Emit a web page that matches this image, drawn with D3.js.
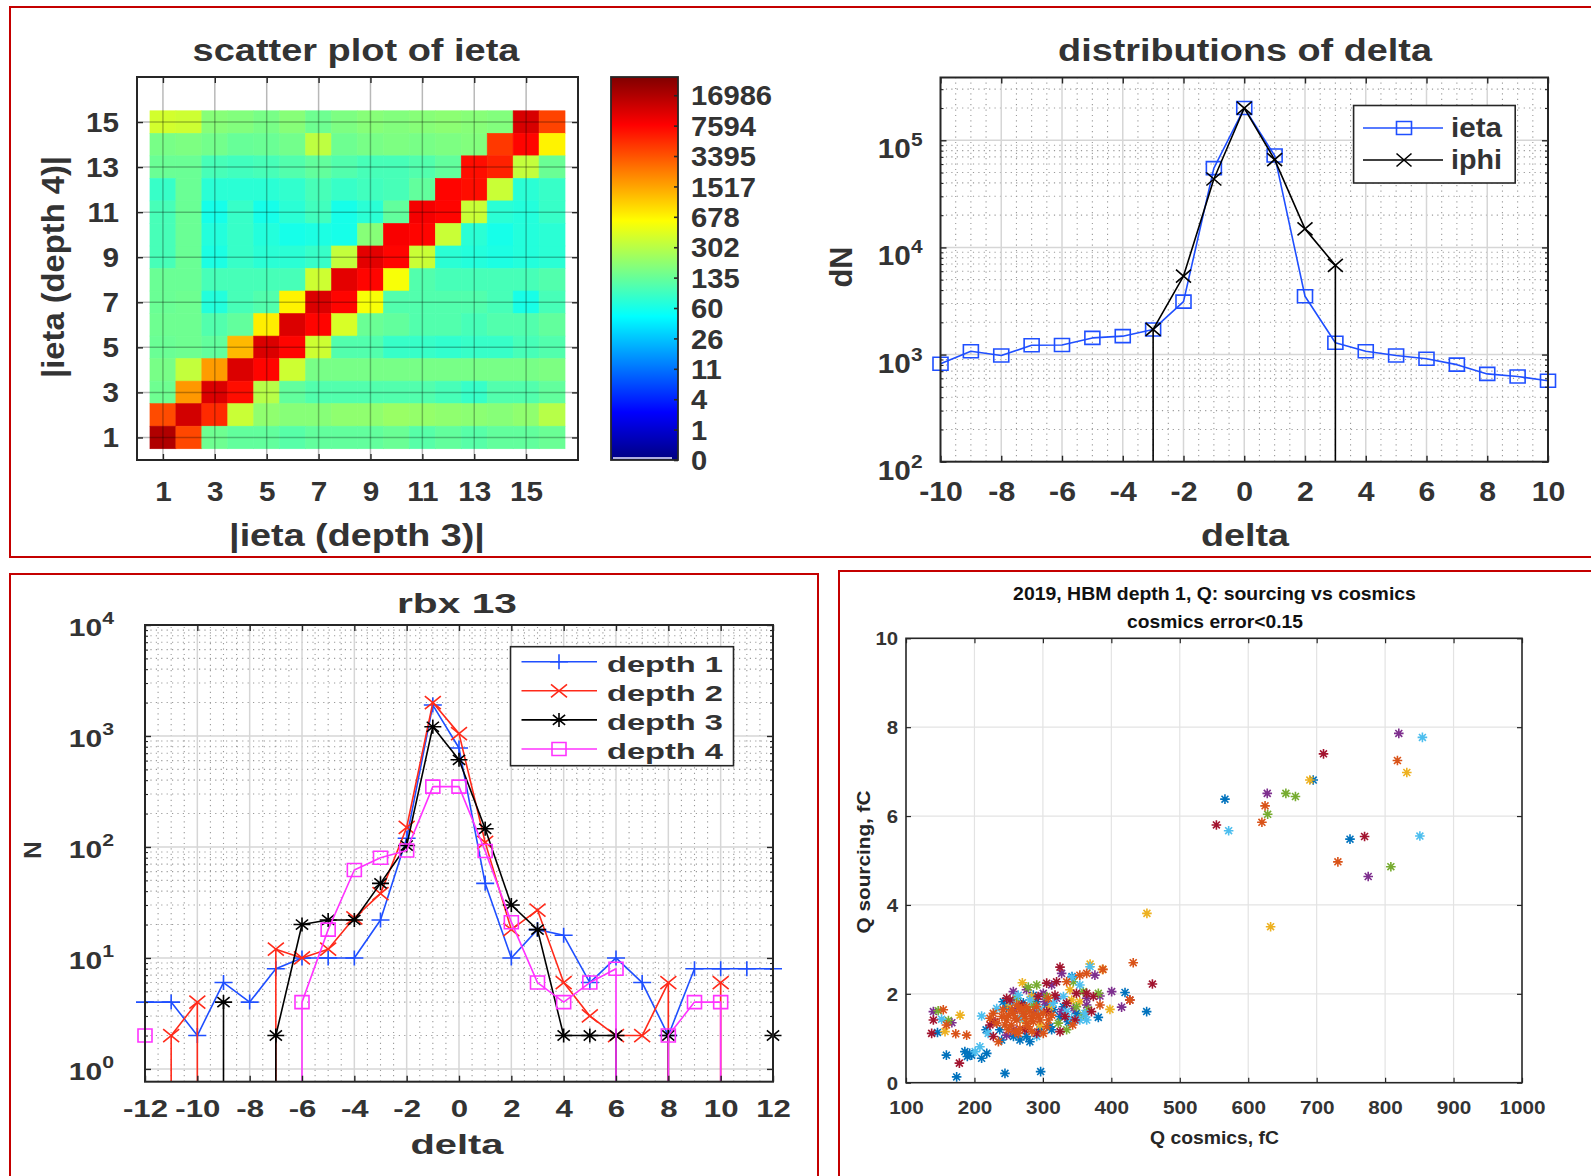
<!DOCTYPE html>
<html>
<head>
<meta charset="utf-8">
<script src="https://cdn.jsdelivr.net/npm/d3@7"></script>
<style>
  html, body { margin: 0; padding: 0; background: #fff; }
  svg { display: block; }
</style>
</head>
<body>
<svg id="fig" width="1591" height="1176"></svg>
<script>
// ---------------- data ----------------

// |ieta| of depth 3 (columns) versus |ieta| of depth 4 (rows, top row = 15)
const ietaDepth3 = d3.range(1, 17);
const ietaDepth4 = d3.range(15, 0, -1);
const ietaTicks = [1, 3, 5, 7, 9, 11, 13, 15];
const ietaCounts = [
  [420, 400, 200, 190, 170, 200, 150, 180, 200, 190, 200, 210, 200, 190, 12500, 4200],
  [170, 180, 160, 135, 140, 160, 330, 150, 170, 180, 170, 180, 190, 4800, 7500, 700],
  [140, 140, 105, 100, 105, 115, 130, 115, 105, 105, 115, 130, 7000, 6000, 350, 140],
  [90, 140, 78, 78, 78, 85, 105, 90, 100, 105, 130, 7500, 7000, 380, 78, 90],
  [105, 140, 60, 90, 60, 78, 100, 60, 78, 130, 9000, 7500, 380, 78, 72, 90],
  [105, 140, 72, 90, 72, 60, 65, 60, 200, 8500, 7500, 380, 78, 60, 72, 78],
  [105, 140, 65, 90, 78, 78, 90, 350, 11000, 7500, 380, 78, 72, 65, 72, 78],
  [140, 140, 105, 105, 105, 105, 400, 11000, 7500, 600, 115, 105, 105, 105, 105, 115],
  [140, 150, 72, 105, 115, 700, 12000, 7500, 600, 115, 115, 115, 115, 105, 62, 105],
  [150, 150, 115, 130, 750, 12000, 7500, 450, 140, 130, 115, 115, 105, 115, 115, 130],
  [140, 150, 130, 1300, 12000, 7500, 400, 115, 115, 90, 90, 85, 90, 90, 105, 115],
  [170, 350, 1700, 12000, 7500, 400, 170, 170, 170, 170, 170, 170, 170, 170, 170, 180],
  [150, 1800, 12000, 7000, 300, 130, 115, 115, 115, 115, 115, 105, 90, 115, 115, 130],
  [3800, 13000, 5500, 380, 220, 200, 200, 220, 220, 240, 230, 220, 210, 200, 220, 300],
  [16986, 4000, 150, 130, 130, 120, 130, 130, 130, 140, 120, 130, 120, 130, 130, 140]
];
const cbarTicks = [0, 1, 4, 11, 26, 60, 135, 302, 678, 1517, 3395, 7594, 16986];

// delta distributions
const deltaX = d3.range(-10, 11);
const ietaDelta = [820, 1075, 980, 1220, 1230, 1430, 1485, 1715, 3120, 55000, 200000,
                   72000, 3500, 1290, 1075, 980, 915, 805, 660, 625, 570];
const iphiDelta = [0, 0, 0, 0, 0, 0, 0, 1715, 5400, 43500, 200000,
                   66000, 14900, 6800, 0, 0, 0, 0, 0, 0, 0];
const deltaTicks = d3.range(-10, 11, 2);

// rbx 13, counts per delta for each depth
const rbxDelta = d3.range(-12, 13);
const rbxTicks = d3.range(-12, 13, 2);
const depth1 = [4, 4, 2, 6, 4, 8, 10, 10, 10, 22, 120, 1900, 780, 47, 10, 18, 16, 6, 10, 6, 2, 8, 8, 8, 8];
const depth2 = [0, 2, 4, 0, 0, 12, 10, 12, 23, 38, 150, 2000, 1050, 110, 18, 27, 6, 3, 2, 2, 6, 0, 6, 0, 0];
const depth3 = [0, 0, 0, 4, 0, 2, 20, 22, 22, 47, 103, 1210, 610, 146, 30, 18, 2, 2, 2, 0, 2, 0, 0, 0, 2];
const depth4 = [2, 0, 0, 0, 0, 0, 4, 18, 62, 80, 93, 350, 350, 92, 21, 6, 4, 6, 8, 0, 2, 4, 4, 0, 0];

// Q sourcing vs Q cosmics, [Q cosmics fC, Q sourcing fC], one list per channel group
const qBlue = [[146,1.13],[159,0.62],[174,0.13],[186,0.70],[189.6,0.59],[196,0.62],[193,0.66],[210.5,0.55],[218,0.66],[244.6,0.21],[296.7,0.25],[217,1.19],[239.8,0.96],[266.5,0.96],[281,0.92],[312.8,1.19],[381,1.47],[420,2.03],[451.6,1.60],[286,1.97],[242,1.82],[247,1.70],[271.4,1.80],[291,1.82],[305.5,1.75],[315.2,1.64],[330,1.71],[325,1.49],[337,1.37],[349,1.56],[310.4,1.26],[295.8,1.19],[276,1.04],[257,1.04],[237,1.19],[342.5,2.39],[566,6.38],[748.7,5.48],[695,6.81]];
const qYellow = [[157,1.15],[179,1.52],[398,1.65],[387,2.55],[270,2.25],[339.6,2.09],[354,1.82],[252,1.75],[283.6,1.94],[310.4,1.71],[342,1.86],[271.4,1.41],[295.8,1.30],[369,2.67],[831.7,6.98],[690,6.81],[452,3.81],[632.7,3.51]];
const qPurple = [[140,1.60],[167,1.35],[247,1.07],[383.4,1.95],[400.5,2.05],[415,1.70],[376,2.42],[327.4,2.46],[312.8,2.20],[364,1.90],[320,1.90],[300.6,2.01],[276,2.09],[256.8,2.05],[259,1.64],[288.5,1.64],[303,1.82],[327.4,1.60],[344.5,1.67],[364,1.75],[257,1.19],[820,7.86],[627.8,6.51],[775.3,4.64]];
const qGreen = [[147,1.62],[162,1.40],[334.7,1.19],[359,1.52],[278.7,2.15],[291,2.20],[344.5,2.27],[359,2.05],[261.7,1.90],[276,1.64],[305.5,1.94],[322.5,1.34],[349,1.71],[366.4,1.64],[286,1.75],[381,2.01],[655,6.51],[669,6.44],[628.4,6.04],[808.4,4.86]];
const qCyan = [[152,1.43],[201,0.70],[208,0.81],[210.5,1.50],[220,1.11],[291,1.04],[354,1.41],[364,1.41],[368.8,2.61],[342,2.37],[354,2.20],[330,1.94],[264,1.97],[232.5,1.67],[254.4,1.82],[281,1.86],[315,1.79],[334.7,1.60],[342,1.45],[361.5,1.56],[266.5,1.45],[295.8,1.64],[854.5,7.77],[571.4,5.67],[850.8,5.55]];
const qRed = [[140,1.41],[137.5,1.11],[178,0.44],[227.6,1.04],[222.7,1.30],[230,1.37],[325,1.15],[371,1.60],[373.7,1.94],[427,1.86],[460,2.22],[325,2.60],[305.5,2.24],[320,2.27],[364,2.01],[349,2.01],[247,1.90],[252,1.86],[269,1.75],[293,1.94],[317.7,1.97],[334.7,1.79],[332.3,1.49],[347,1.41],[305.5,1.60],[273.8,1.19],[291,1.11],[710,7.40],[553.5,5.80],[770,5.54]];
const qOrange = [[154.5,1.64],[159,1.30],[172.7,1.10],[188.6,1.07],[235,0.92],[259,1.15],[300.6,1.11],[343.5,1.30],[383.4,1.75],[364,2.46],[354,2.42],[334.7,2.27],[308,1.90],[227.6,1.56],[222.7,1.45],[432,2.70],[427.3,1.86],[387.8,2.55],[242,1.64],[249.5,1.52],[257,1.56],[262,1.41],[266.5,1.64],[274,1.49],[281,1.60],[286,1.37],[293,1.52],[254,1.30],[266.5,1.22],[279,1.26],[247,1.41],[240,1.49],[262,1.75],[276,1.71],[291,1.71],[300.6,1.56],[308,1.41],[284,1.15],[264,1.11],[249.5,1.19],[271.4,1.56],[283.6,1.45],[254.4,1.64],[295.8,1.41],[276.3,1.34],[269,1.67],[286,1.52],[259.2,1.45],[244.6,1.30],[305.5,1.26],[312.8,1.52],[232.5,1.34],[818,7.25],[624.6,6.23],[620,5.86],[731,4.97]];
const qGroups = [qBlue, qYellow, qPurple, qGreen, qCyan, qRed, qOrange];
const qColors = ['#0072BD', '#EDB120', '#7E2F8E', '#77AC30', '#4DBEEE', '#A2142F', '#D95319'];
const qXTicks = d3.range(100, 1001, 100);
const qYTicks = d3.range(0, 11, 2);

// ---------------- helpers ----------------
const FONT = '"Liberation Sans", Arial, Helvetica, sans-serif';
const INK = '#333';
const plain = d => String(d);   // hyphen minus, no thousands separator
const svg = d3.select('#fig');

function jet(t) {
  t = Math.max(0, Math.min(1, t));
  const c = v => Math.round(255 * Math.max(0, Math.min(1, v)));
  return `rgb(${c(1.5 - Math.abs(4 * t - 3))},${c(1.5 - Math.abs(4 * t - 2))},${c(1.5 - Math.abs(4 * t - 1))})`;
}

// text placed at (x,y); optionally squeezed/stretched to a given width
function label(parent, x, y, str, o) {
  const g = parent.append('g')
    .attr('transform', `translate(${x},${y})${o.rotate ? ` rotate(${o.rotate})` : ''}`);
  const t = g.append('text')
    .attr('text-anchor', o.anchor || 'middle')
    .attr('font-family', FONT)
    .attr('font-size', o.size)
    .attr('font-weight', o.weight || 'bold')
    .attr('fill', o.fill || INK)
    .text(str);
  if (o.width) {
    const w = t.node().getComputedTextLength();
    t.attr('transform', `scale(${o.width / w},1)`);
  } else if (o.k) {
    t.attr('transform', `scale(${o.k},1)`);
  }
  return t;
}

function styleAxis(g, size, tw) {
  g.attr('font-family', FONT).attr('font-size', size).attr('font-weight', 'bold');
  g.select('.domain').remove();
  g.selectAll('.tick line').attr('stroke', '#262626').attr('stroke-width', tw || 1.4);
  g.selectAll('.tick text').attr('fill', INK);
  return g;
}

function bottomLabels(g, off, k) {
  g.selectAll('.tick text').attr('y', off).attr('dy', 0).attr('transform', `scale(${k},1)`);
}
function leftLabels(g, off, k, dy) {
  g.selectAll('.tick text').attr('x', -off / k).attr('dy', dy || '0.35em')
    .attr('text-anchor', 'end').attr('transform', `scale(${k},1)`);
}
function powerLabels(g, supSize, raise) {
  g.selectAll('.tick text').each(function (d) {
    const t = d3.select(this).text(null);
    t.append('tspan').text('10');
    t.append('tspan').attr('font-size', supSize).attr('dy', -raise).text(Math.round(Math.log10(d)));
  });
}

// marker shapes: half-width hx, half-height hy
function markerPath(type, hx, hy) {
  const c = 0.72;
  switch (type) {
    case 'plus': return `M${-hx},0H${hx}M0,${-hy}V${hy}`;
    case 'cross': return `M${-hx},${-hy}L${hx},${hy}M${-hx},${hy}L${hx},${-hy}`;
    case 'star': return `M${-hx},0H${hx}M0,${-hy}V${hy}M${-hx * c},${-hy * c}L${hx * c},${hy * c}M${-hx * c},${hy * c}L${hx * c},${-hy * c}`;
    case 'square': return `M${-hx},${-hy}H${hx}V${hy}H${-hx}Z`;
  }
}

// line through positive counts; a zero count on a log axis drops the line to the floor
function countRuns(xs, ys, xs_, ys_, floor) {
  const runs = [];
  let cur = null;
  for (let i = 0; i < xs.length; i++) {
    if (ys[i] > 0) {
      if (!cur) {
        cur = [];
        if (i > 0) cur.push([xs_(xs[i]), floor]);
      }
      cur.push([xs_(xs[i]), ys_(ys[i])]);
    } else if (cur) {
      cur.push([cur[cur.length - 1][0], floor]);
      runs.push(cur);
      cur = null;
    }
  }
  if (cur) runs.push(cur);
  return runs;
}

function drawCountSeries(g, xs, ys, xScale, yScale, o) {
  const floor = yScale.range()[0];
  const runs = countRuns(xs, ys, xScale, yScale, floor);
  g.selectAll(null).data(runs).join('path')
    .attr('d', d3.line())
    .attr('fill', 'none').attr('stroke', o.color).attr('stroke-width', o.lw || 1.6)
    .attr('stroke-linejoin', 'round')
    .attr('clip-path', o.clip);
  const pts = xs.map((x, i) => [x, ys[i]]).filter(p => p[1] > 0);
  g.selectAll(null).data(pts).join('path')
    .attr('transform', p => `translate(${xScale(p[0])},${yScale(p[1])})`)
    .attr('d', markerPath(o.marker, o.hx, o.hy))
    .attr('fill', 'none').attr('stroke', o.color).attr('stroke-width', o.mw || 1.6);
}

function logGrid(g, xScale, yScale, xMajor, xMinorStep, decades) {
  const [x0, x1] = xScale.range();
  const [y0, y1] = yScale.range();
  const xd = xScale.domain();
  const minorX = d3.range(xd[0], xd[1] + 1e-9, xMinorStep).filter(v => !xMajor.includes(v));
  const minorY = [];
  decades.forEach(p => { for (let m = 2; m <= 9; m++) { const v = m * Math.pow(10, p); if (v > yScale.domain()[0] && v < yScale.domain()[1]) minorY.push(v); } });
  const majorY = decades.map(p => Math.pow(10, p)).filter(v => v > yScale.domain()[0] && v < yScale.domain()[1]);
  const dot = { stroke: '#9a9a9a', w: 1.1, dash: '1.2,4.2' };
  g.selectAll(null).data(minorX).join('line')
    .attr('x1', xScale).attr('x2', xScale).attr('y1', y0).attr('y2', y1)
    .attr('stroke', dot.stroke).attr('stroke-width', dot.w).attr('stroke-dasharray', dot.dash);
  g.selectAll(null).data(minorY).join('line')
    .attr('y1', yScale).attr('y2', yScale).attr('x1', x0).attr('x2', x1)
    .attr('stroke', dot.stroke).attr('stroke-width', dot.w).attr('stroke-dasharray', dot.dash);
  g.selectAll(null).data(xMajor.filter(v => v > xd[0] && v < xd[1])).join('line')
    .attr('x1', xScale).attr('x2', xScale).attr('y1', y0).attr('y2', y1)
    .attr('stroke', '#d6d6d6').attr('stroke-width', 1.5);
  g.selectAll(null).data(majorY).join('line')
    .attr('y1', yScale).attr('y2', yScale).attr('x1', x0).attr('x2', x1)
    .attr('stroke', '#d6d6d6').attr('stroke-width', 1.5);
  return minorY;
}

function box(g, xScale, yScale, sw) {
  const [x0, x1] = xScale.range();
  const [y0, y1] = yScale.range();
  g.append('rect').attr('x', x0).attr('y', y1).attr('width', x1 - x0).attr('height', y0 - y1)
    .attr('fill', 'none').attr('stroke', '#262626').attr('stroke-width', sw || 2);
}

function clipRect(id, xScale, yScale) {
  const [x0, x1] = xScale.range();
  const [y0, y1] = yScale.range();
  svg.append('clipPath').attr('id', id).append('rect')
    .attr('x', x0).attr('y', y1).attr('width', x1 - x0).attr('height', y0 - y1);
  return `url(#${id})`;
}

// ---------------- panel frames ----------------
const frames = svg.append('g').attr('fill', 'none').attr('stroke', '#c40000').attr('stroke-width', 2);
frames.append('rect').attr('x', 10).attr('y', 7).attr('width', 1600).attr('height', 550);
frames.append('rect').attr('x', 10).attr('y', 574).attr('width', 808).attr('height', 700);
frames.append('rect').attr('x', 839).attr('y', 571).attr('width', 800).attr('height', 700);

// ---------------- panel 1: scatter plot of ieta ----------------
{
  const g = svg.append('g');
  const x = d3.scaleLinear().domain([0, 17]).range([137, 578]);
  const y = d3.scaleLinear().domain([0, 17]).range([460, 77]);
  const cIdx = d3.scaleLinear().domain(cbarTicks).range(d3.range(cbarTicks.length));
  const cTop = 12.6;
  const cells = [];
  ietaCounts.forEach((row, i) => row.forEach((v, j) => cells.push({ c: ietaDepth3[j], r: ietaDepth4[i], v })));
  g.selectAll(null).data(cells).join('rect')
    .attr('x', d => x(d.c - 0.5)).attr('y', d => y(d.r + 0.5))
    .attr('width', d => x(d.c + 0.5) - x(d.c - 0.5)).attr('height', d => y(d.r - 0.5) - y(d.r + 0.5))
    .attr('fill', d => jet(cIdx(d.v) / cTop)).attr('stroke', d => jet(cIdx(d.v) / cTop)).attr('stroke-width', 0.6);

  // grid over the map
  g.selectAll(null).data(ietaTicks).join('line')
    .attr('x1', x).attr('x2', x).attr('y1', y(0)).attr('y2', y(17))
    .attr('stroke', '#000').attr('stroke-opacity', 0.28).attr('stroke-width', 1.5);
  g.selectAll(null).data(ietaTicks).join('line')
    .attr('y1', y).attr('y2', y).attr('x1', x(0)).attr('x2', x(17))
    .attr('stroke', '#000').attr('stroke-opacity', 0.28).attr('stroke-width', 1.5);

  const ax = g.append('g').attr('transform', 'translate(0,460)')
    .call(d3.axisBottom(x).tickValues(ietaTicks).tickSize(-6).tickFormat(plain));
  styleAxis(ax, 27); bottomLabels(ax, 41, 1.1);
  const axT = g.append('g').attr('transform', 'translate(0,77)')
    .call(d3.axisTop(x).tickValues(ietaTicks).tickSize(-6).tickFormat(''));
  styleAxis(axT, 27);
  const ay = g.append('g').attr('transform', 'translate(137,0)')
    .call(d3.axisLeft(y).tickValues(ietaTicks).tickSize(-6).tickFormat(plain));
  styleAxis(ay, 27); leftLabels(ay, 18, 1.1);
  const ayR = g.append('g').attr('transform', 'translate(578,0)')
    .call(d3.axisRight(y).tickValues(ietaTicks).tickSize(-6).tickFormat(''));
  styleAxis(ayR, 27);
  box(g, x, y, 2);

  label(g, 356, 61, 'scatter plot of ieta', { size: 31, width: 327 });
  label(g, 357, 546, '|ieta (depth 3)|', { size: 31, width: 256 });
  label(g, 64, 267, '|ieta (depth 4)|', { size: 31, width: 222, rotate: -90 });

  // colour bar
  const cb = d3.scaleLinear().domain([0, cTop]).range([460, 77]);
  const grad = svg.append('defs').append('linearGradient').attr('id', 'jetbar')
    .attr('x1', 0).attr('x2', 0).attr('y1', 1).attr('y2', 0);
  d3.range(0, 1.0001, 0.025).forEach(t => grad.append('stop').attr('offset', t).attr('stop-color', jet(t)));
  g.append('rect').attr('x', 611).attr('y', cb(cTop)).attr('width', 67).attr('height', cb(0) - cb(cTop))
    .attr('fill', 'url(#jetbar)');
  g.append('line').attr('x1', 613).attr('x2', 672).attr('y1', 458).attr('y2', 458)
    .attr('stroke', '#e8e8ff').attr('stroke-width', 1.5);
  const ac = g.append('g').attr('transform', 'translate(678,0)')
    .call(d3.axisRight(cb).tickValues(d3.range(cbarTicks.length)).tickSize(-4).tickFormat(i => String(cbarTicks[i])));
  styleAxis(ac, 27, 1.6);
  ac.selectAll('.tick text').attr('x', 13 / 1.08).attr('dy', '0.36em').attr('text-anchor', 'start')
    .attr('transform', 'scale(1.08,1)');
  g.append('rect').attr('x', 611).attr('y', 77).attr('width', 67).attr('height', 383)
    .attr('fill', 'none').attr('stroke', '#262626').attr('stroke-width', 1.8);
}

// ---------------- panel 2: distributions of delta ----------------
{
  const g = svg.append('g');
  const x = d3.scaleLinear().domain([-10, 10]).range([940.5, 1548]);
  const y = d3.scaleLog().domain([100, Math.pow(10, 5.586)]).range([461.7, 77.5]);
  const minorY = logGrid(g, x, y, deltaTicks, 0.5, [2, 3, 4, 5]);
  const clip = clipRect('clipDelta', x, y);

  drawCountSeries(g, deltaX, ietaDelta, x, y, { color: '#1f4fff', marker: 'square', hx: 7.5, hy: 6.5, clip });
  drawCountSeries(g, deltaX, iphiDelta, x, y, { color: '#000', marker: 'cross', hx: 7.5, hy: 6.5, clip });

  const ax = g.append('g').attr('transform', 'translate(0,461.7)')
    .call(d3.axisBottom(x).tickValues(deltaTicks).tickSize(-6).tickFormat(plain));
  styleAxis(ax, 27); bottomLabels(ax, 39.3, 1.12);
  styleAxis(g.append('g').attr('transform', 'translate(0,77.5)')
    .call(d3.axisTop(x).tickValues(deltaTicks).tickSize(-6).tickFormat('')), 27);
  const ay = g.append('g').attr('transform', 'translate(940.5,0)')
    .call(d3.axisLeft(y).tickValues([1e2, 1e3, 1e4, 1e5]).tickSize(-6));
  styleAxis(ay, 27); leftLabels(ay, 18, 1.1, 0); powerLabels(ay, 19, 12);
  ay.selectAll('.tick text').attr('y', 8);
  styleAxis(g.append('g').attr('transform', 'translate(1548,0)')
    .call(d3.axisRight(y).tickValues([1e2, 1e3, 1e4, 1e5]).tickSize(-6).tickFormat('')), 27);
  styleAxis(g.append('g').attr('transform', 'translate(940.5,0)')
    .call(d3.axisLeft(y).tickValues(minorY).tickSize(-3).tickFormat('')), 27, 1.1);
  styleAxis(g.append('g').attr('transform', 'translate(1548,0)')
    .call(d3.axisRight(y).tickValues(minorY).tickSize(-3).tickFormat('')), 27, 1.1);
  box(g, x, y, 2);

  // legend
  const lg = g.append('g');
  lg.append('rect').attr('x', 1353.6).attr('y', 105.5).attr('width', 161.6).attr('height', 77.5)
    .attr('fill', '#fff').attr('stroke', '#262626').attr('stroke-width', 1.6);
  [['ieta', '#1f4fff', 'square', 128], ['iphi', '#000', 'cross', 160]].forEach(([name, col, mk, ly]) => {
    lg.append('line').attr('x1', 1363).attr('x2', 1443).attr('y1', ly).attr('y2', ly)
      .attr('stroke', col).attr('stroke-width', 1.6);
    lg.append('path').attr('transform', `translate(1404,${ly})`).attr('d', markerPath(mk, 7.5, 6.5))
      .attr('fill', 'none').attr('stroke', col).attr('stroke-width', 1.6);
    label(lg, 1451, ly + 9, name, { size: 27, width: 51, anchor: 'start' });
  });

  label(g, 1245, 61, 'distributions of delta', { size: 31, width: 374 });
  label(g, 1245, 546, 'delta', { size: 31, width: 88 });
  label(g, 852, 267, 'dN', { size: 31, width: 41, rotate: -90 });
}

// ---------------- panel 3: rbx 13 ----------------
{
  const g = svg.append('g');
  const x = d3.scaleLinear().domain([-12, 12]).range([145, 773]);
  const y = d3.scaleLog().domain([Math.pow(10, -0.115), 1e4]).range([1081.7, 625]);
  const minorY = logGrid(g, x, y, rbxTicks, 0.5, [0, 1, 2, 3]);
  const clip = clipRect('clipRbx', x, y);

  const series = [
    { v: depth1, color: '#1f4fff', marker: 'plus', hx: 9, hy: 7.5 },
    { v: depth2, color: '#ff2a1a', marker: 'cross', hx: 8, hy: 6.5 },
    { v: depth3, color: '#000', marker: 'star', hx: 8.5, hy: 7 },
    { v: depth4, color: '#ff33ff', marker: 'square', hx: 7, hy: 6.5 }
  ];
  series.forEach(s => drawCountSeries(g, rbxDelta, s.v, x, y, { ...s, clip }));

  const ax = g.append('g').attr('transform', 'translate(0,1081.7)')
    .call(d3.axisBottom(x).tickValues(rbxTicks).tickSize(-6).tickFormat(plain));
  styleAxis(ax, 24); bottomLabels(ax, 35.3, 1.3);
  styleAxis(g.append('g').attr('transform', 'translate(0,625)')
    .call(d3.axisTop(x).tickValues(rbxTicks).tickSize(-6).tickFormat('')), 24);
  const ay = g.append('g').attr('transform', 'translate(145,0)')
    .call(d3.axisLeft(y).tickValues([1, 10, 100, 1000, 10000]).tickSize(-6));
  styleAxis(ay, 24); leftLabels(ay, 31, 1.25, 0); powerLabels(ay, 17, 12);
  ay.selectAll('.tick text').attr('y', 2);
  styleAxis(g.append('g').attr('transform', 'translate(773,0)')
    .call(d3.axisRight(y).tickValues([1, 10, 100, 1000, 10000]).tickSize(-6).tickFormat('')), 24);
  styleAxis(g.append('g').attr('transform', 'translate(145,0)')
    .call(d3.axisLeft(y).tickValues(minorY).tickSize(-3).tickFormat('')), 24, 1.1);
  styleAxis(g.append('g').attr('transform', 'translate(773,0)')
    .call(d3.axisRight(y).tickValues(minorY).tickSize(-3).tickFormat('')), 24, 1.1);
  box(g, x, y, 2);

  // legend
  const lg = g.append('g');
  lg.append('rect').attr('x', 510.5).attr('y', 646.7).attr('width', 223).attr('height', 119)
    .attr('fill', '#fff').attr('stroke', '#262626').attr('stroke-width', 1.6);
  series.forEach((s, i) => {
    const ly = 661.7 + i * 29.1;
    lg.append('line').attr('x1', 521.5).attr('x2', 597).attr('y1', ly).attr('y2', ly)
      .attr('stroke', s.color).attr('stroke-width', 1.6);
    lg.append('path').attr('transform', `translate(559,${ly})`).attr('d', markerPath(s.marker, s.hx, s.hy))
      .attr('fill', 'none').attr('stroke', s.color).attr('stroke-width', 1.6);
    label(lg, 607, ly + 10, `depth ${i + 1}`, { size: 23, width: 116, anchor: 'start' });
  });

  label(g, 457, 613, 'rbx 13', { size: 28, width: 120 });
  label(g, 457, 1154, 'delta', { size: 28, width: 93 });
  label(g, 41, 850, 'N', { size: 24, rotate: -90 });
}

// ---------------- panel 4: Q sourcing vs Q cosmics ----------------
{
  const g = svg.append('g');
  const x = d3.scaleLinear().domain([100, 1000]).range([906, 1522]);
  const y = d3.scaleLinear().domain([0, 10]).range([1082.7, 638.3]);

  g.selectAll(null).data(qXTicks.slice(1, -1)).join('line')
    .attr('x1', x).attr('x2', x).attr('y1', y(0)).attr('y2', y(10))
    .attr('stroke', '#e3e3e3').attr('stroke-width', 1.2);
  g.selectAll(null).data(qYTicks.slice(1, -1)).join('line')
    .attr('y1', y).attr('y2', y).attr('x1', x(100)).attr('x2', x(1000))
    .attr('stroke', '#e3e3e3').attr('stroke-width', 1.2);

  qGroups.forEach((pts, i) => {
    g.selectAll(null).data(pts).join('path')
      .attr('transform', p => `translate(${x(p[0])},${y(p[1])})`)
      .attr('d', markerPath('star', 4.8, 4.8))
      .attr('fill', 'none').attr('stroke', qColors[i]).attr('stroke-width', 1.6);
  });

  const ax = g.append('g').attr('transform', 'translate(0,1082.7)')
    .call(d3.axisBottom(x).tickValues(qXTicks).tickSize(-5).tickFormat(plain));
  styleAxis(ax, 18.5, 1.2); bottomLabels(ax, 31.3, 1.12);
  styleAxis(g.append('g').attr('transform', 'translate(0,638.3)')
    .call(d3.axisTop(x).tickValues(qXTicks).tickSize(-5).tickFormat('')), 18.5, 1.2);
  const ay = g.append('g').attr('transform', 'translate(906,0)')
    .call(d3.axisLeft(y).tickValues(qYTicks).tickSize(-5).tickFormat(plain));
  styleAxis(ay, 18.5, 1.2); leftLabels(ay, 8, 1.1);
  styleAxis(g.append('g').attr('transform', 'translate(1522,0)')
    .call(d3.axisRight(y).tickValues(qYTicks).tickSize(-5).tickFormat('')), 18.5, 1.2);
  box(g, x, y, 1.6);

  label(g, 1214.5, 600, '2019, HBM depth 1, Q: sourcing vs cosmics', { size: 18.5, width: 403, fill: '#111' });
  label(g, 1215, 628, 'cosmics error<0.15', { size: 18.5, width: 176, fill: '#111' });
  label(g, 1214.5, 1143.6, 'Q cosmics, fC', { size: 18.5, width: 129, fill: '#262626' });
  label(g, 870, 862, 'Q sourcing, fC', { size: 18.5, width: 143, rotate: -90, fill: '#262626' });
}
</script>
</body>
</html>
